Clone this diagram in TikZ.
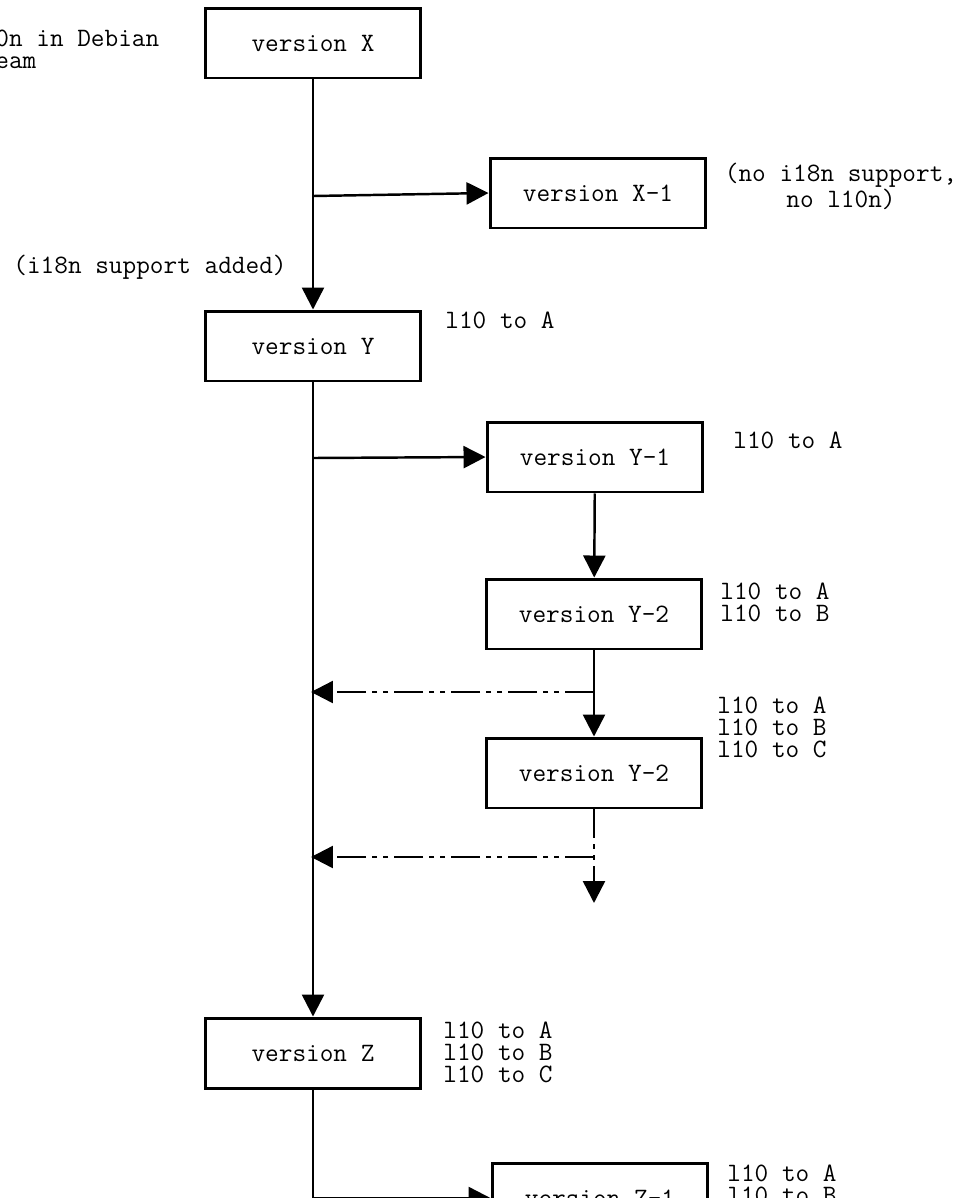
\documentclass[tikz,border=0pt]{standalone}
\usepackage{fontspec}
\usetikzlibrary{arrows.meta}
\tikzset{
  vbox/.style={draw,line width=1.7pt,minimum width=4.32cm,minimum height=1.4cm,inner sep=0pt},
  note/.style={align=left,anchor=north west,inner sep=0pt},
  conn/.style={line width=1.4pt,-{Triangle[length=0.44cm,width=0.44cm]}},
  backport/.style={conn,dash pattern=on 0.58cm off 0.12cm on 0.1cm off 0.12cm on 0.1cm off 0.12cm}
}
\begin{document}
\begin{tikzpicture}[x=0.02cm,y=-0.02cm,font=\ttfamily\fontsize{15.1}{12.5}\selectfont]
\useasboundingbox (0,0) rectangle (962,1198);
\clip (0,0) rectangle (962,1198);
% versions
\node[vbox] (vX) at (313,43) {version X};
\node[vbox] (vX1) at (598,193) {version X-1};
\node[vbox] (vY) at (313,346) {version Y};
\node[vbox] (vY1) at (595,457) {version Y-1};
\node[vbox] (vY2a) at (594,614) {version Y-2};
\node[vbox] (vY2b) at (594,773) {version Y-2};
\node[vbox] (vZ) at (313,1053) {version Z};
\node[vbox] (vZ1) at (600,1198) {version Z-1};
%
\node[note] (nTop) at (-5,30) {0n in Debian\\eam};
\node[note] (nAdd) at (13,255) {(i18n support added)};
\node[note,align=center,anchor=north] (nX1) at (841,163) {(no i18n support,\\no l10n)};
\node[note] (nY) at (445,312) {l10 to A};
\node[note] (nY1) at (733,432) {l10 to A};
\node[note] (nY2a) at (720,583) {l10 to A\\l10 to B};
\node[note] (nY2b) at (717,697) {l10 to A\\l10 to B\\l10 to C};
\node[note] (nZ) at (443,1022) {l10 to A\\l10 to B\\l10 to C};
\node[note] (nZ1) at (727,1165) {l10 to A\\l10 to B};
%
\coordinate (brX) at (313,196);
\coordinate (brY) at (313,458);
\coordinate (forkA) at (594,692);
\coordinate (mainA) at (311,692);
\coordinate (forkB) at (594,857);
\coordinate (mainB) at (311,857);
\coordinate (tipB) at (594,903);
%
\draw[conn] (vX) -- (vY);
\draw[conn] (brX) -- (vX1.west);
\draw[conn] (vY) -- (vZ);
\draw[conn] (brY) -- (vY1.west);
\draw[conn] (vY1) -- (vY2a);
\draw[conn] (vY2a) -- (vY2b);
\draw[backport] (forkA) -- (mainA);
\draw[backport] (vY2b) -- (tipB);
\draw[backport] (forkB) -- (mainB);
\draw[conn] (vZ) |- (vZ1);
\end{tikzpicture}
\end{document}
